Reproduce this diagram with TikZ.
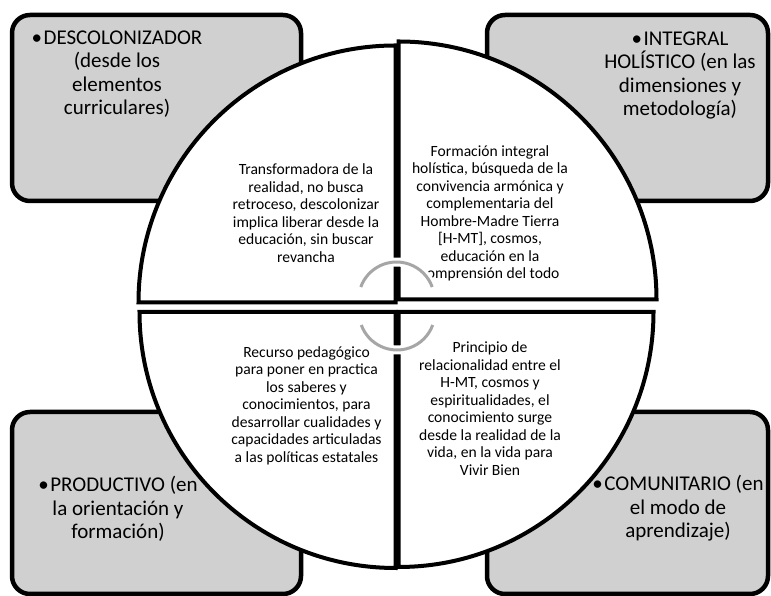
\documentclass[tikz,border=0pt]{standalone}
\usepackage{fontspec}
\setmainfont{Carlito}
\definecolor{boxgray}{RGB}{208,208,208}
\definecolor{arcgray}{RGB}{166,166,166}
\newcommand{\bul}{•\kern1.5pt}
\begin{document}
\begin{tikzpicture}[x=1pt,y=1pt,
 corner/.style={draw=black,line width=4.5pt,fill=boxgray,rounded corners=18pt,inner sep=0pt},
 sector/.style={draw=black,line width=4pt,fill=white,line join=miter},
 boxtext/.style={align=center,font=\fontsize{21}{23.4}\selectfont,inner sep=0pt},
 sectext/.style={align=center,font=\fontsize{15.6}{17.5}\selectfont,inner sep=0pt},
 cyc/.style={draw=arcgray,line width=3pt},
 halo/.style={draw=white,line width=9pt}]
\useasboundingbox (0,0) rectangle (771,596);
% corner boxes
\node[corner,minimum width=289pt,minimum height=186pt] (tlbox) at (156.5,488) {};
\node[corner,minimum width=281pt,minimum height=186pt] (trbox) at (627.5,488) {};
\node[corner,minimum width=289pt,minimum height=182pt] (blbox) at (156.5,93) {};
\node[corner,minimum width=281pt,minimum height=182pt] (brbox) at (627.5,93) {};
% sectors
\draw[sector] (395.5,293.5) -- (138.5,293.5) arc[start angle=180,end angle=90,radius=257] -- cycle;
\draw[sector] (398.5,296.5) -- (398.5,554.5) arc[start angle=90,end angle=0,radius=258] -- cycle;
\draw[sector] (395.5,284) -- (395.5,28) arc[start angle=270,end angle=180,radius=256] -- cycle;
\draw[sector] (398.5,284) -- (653.5,284) arc[start angle=0,end angle=-90,radius=255] -- cycle;
% box texts
\node[boxtext] (tlt) at (117,522) {\bul DESCOLONIZADOR\\(desde los\\elementos\\curriculares)};
\node[boxtext] (trt) at (680,520.5) {\bul INTEGRAL\\HOLÍSTICO (en las\\dimensiones y\\metodología)};
\node[boxtext] (blt) at (118,87) {\bul PRODUCTIVO (en\\la orientación y\\formación)};
\node[boxtext] (brt) at (678,87.5) {\bul COMUNITARIO (en\\el modo de\\aprendizaje)};
% sector texts
\node[sectext] (s1) at (306,383) {Transformadora de la\\realidad, no busca\\retroceso, descolonizar\\implica liberar desde la\\educación, sin buscar\\revancha};
\node[sectext] (s2) at (490,382.5) {Formación integral\\holística, búsqueda de la\\convivencia armónica y\\complementaria del\\Hombre-Madre Tierra\\{[H-MT]}, cosmos,\\educación en la\\comprensión del todo};
\node[sectext] (s3) at (306.5,190.5) {Recurso pedagógico\\para poner en practica\\los saberes y\\conocimientos, para\\desarrollar cualidades y\\capacidades articuladas\\a las políticas estatales};
\node[sectext] (s4) at (490,187.5) {Principio de\\relacionalidad entre el\\H-MT, cosmos y\\espiritualidades, el\\conocimiento surge\\desde la realidad de la\\vida, en la vida para\\Vivir Bien};
% central cycle arcs
\coordinate (ctop) at (396.5,296);
\coordinate (cbot) at (397,284);
\draw[halo] (ctop) ++(160:38) arc[start angle=160,end angle=20,radius=38];
\draw[cyc] (ctop) ++(160:38) arc[start angle=160,end angle=20,radius=38];
\draw[halo] (cbot) ++(200:38) arc[start angle=200,end angle=340,radius=38];
\draw[cyc] (cbot) ++(200:38) arc[start angle=200,end angle=340,radius=38];
\end{tikzpicture}
\end{document}
